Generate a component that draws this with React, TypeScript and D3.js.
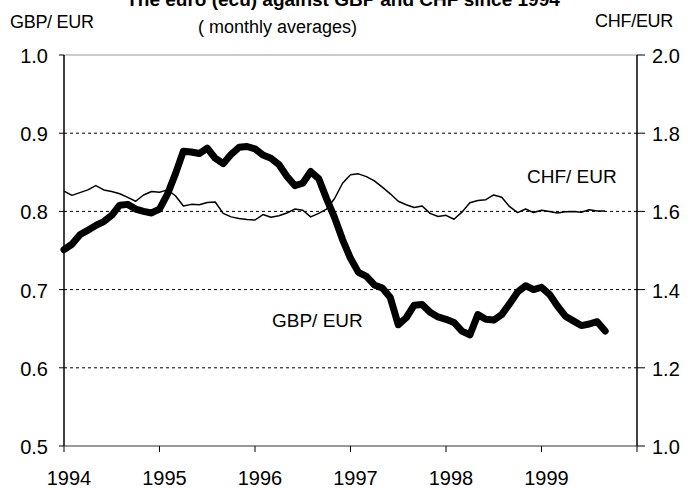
import React from 'react';
import * as d3 from 'd3';

// monthly averages, Jan 1994 onwards
const startYear = 1994;
const gbpEur = [
  0.751, 0.758, 0.770, 0.776, 0.782, 0.787, 0.795, 0.808, 0.809, 0.803, 0.800, 0.798,
  0.803, 0.822, 0.848, 0.877, 0.876, 0.874, 0.881, 0.868, 0.861, 0.873, 0.882, 0.883,
  0.880, 0.872, 0.868, 0.860, 0.845, 0.833, 0.836, 0.851, 0.842, 0.816, 0.792, 0.764,
  0.740, 0.722, 0.717, 0.706, 0.702, 0.690, 0.655, 0.664, 0.680, 0.681, 0.671, 0.665,
  0.662, 0.658, 0.647, 0.642, 0.668, 0.662, 0.661, 0.668, 0.682, 0.697, 0.705, 0.700,
  0.703, 0.694, 0.679, 0.666, 0.660, 0.654, 0.656, 0.659, 0.647,
];
const chfEur = [
  1.652, 1.641, 1.648, 1.655, 1.666, 1.655, 1.651, 1.645, 1.636, 1.626, 1.642, 1.651,
  1.649, 1.655, 1.640, 1.614, 1.618, 1.617, 1.623, 1.624, 1.595, 1.586, 1.582, 1.579,
  1.578, 1.592, 1.585, 1.589, 1.596, 1.606, 1.603, 1.586, 1.595, 1.606, 1.633, 1.672,
  1.694, 1.696, 1.689, 1.678, 1.662, 1.645, 1.626, 1.617, 1.610, 1.614, 1.595, 1.587,
  1.590, 1.580, 1.598, 1.622, 1.628, 1.630, 1.642, 1.636, 1.612, 1.597, 1.606, 1.597,
  1.603, 1.600, 1.596, 1.599, 1.600, 1.598, 1.604, 1.601, 1.601,
];
const yearTicks = [1994, 1995, 1996, 1997, 1998, 1999, 2000];
const yearLabels = [1994, 1995, 1996, 1997, 1998, 1999];
const leftTicks = [0.5, 0.6, 0.7, 0.8, 0.9, 1.0];
const rightTicks = [1.0, 1.2, 1.4, 1.6, 1.8, 2.0];
const gridTicks = [0.6, 0.7, 0.8, 0.9];

const W = 692;
const H = 490;
const font = 'Liberation Sans, Arial, sans-serif';

export default function App() {
  const left = 64, right = 637, top = 55, bottom = 446;
  const x = d3.scaleLinear().domain([1994, 2000]).range([left, right]);
  const yL = d3.scaleLinear().domain([0.5, 1.0]).range([bottom, top]);
  const yR = d3.scaleLinear().domain([1.0, 2.0]).range([bottom, top]);

  const t = (i: number) => startYear + i / 12;
  const gbpLine = d3.line<number>().x((d, i) => x(t(i))).y(d => yL(d));
  const chfLine = d3.line<number>().x((d, i) => x(t(i))).y(d => yR(d));

  return (
    <svg width={W} height={H} style={{ position: 'absolute', left: 0, top: 0, background: '#fff' }}
      fontFamily={font}>
      {/* title, cut off at the top of the scan */}
      <text x={343} y={6} textAnchor="middle" fontSize={19} fontWeight="bold">
        The euro (ecu) against GBP and CHF since 1994
      </text>
      <text x={10} y={28} fontSize={18} letterSpacing={-0.3}>GBP/ EUR</text>
      <text x={198} y={33} fontSize={18}>( monthly averages)</text>
      <text x={673} y={27} textAnchor="end" fontSize={18} letterSpacing={-0.3}>CHF/EUR</text>

      {/* grid */}
      {gridTicks.map(v => (
        <line key={v} x1={left} x2={right} y1={yL(v)} y2={yL(v)}
          stroke="#000" strokeWidth={1} strokeDasharray="3,3" />
      ))}
      <line x1={left} x2={right} y1={top} y2={top} stroke="#999" strokeWidth={1} />

      {/* axes */}
      <line x1={left} x2={left} y1={top} y2={bottom} stroke="#000" strokeWidth={1.5} />
      <line x1={right} x2={right} y1={top} y2={bottom} stroke="#000" strokeWidth={1.5} />
      <line x1={left} x2={right} y1={bottom} y2={bottom} stroke="#333" strokeWidth={1.2} />
      {leftTicks.map(v => (
        <g key={v}>
          <line x1={left - 5} x2={left} y1={yL(v)} y2={yL(v)} stroke="#000" />
          <text x={48} y={yL(v) + 8} textAnchor="end" fontSize={20}>{v.toFixed(1)}</text>
        </g>
      ))}
      {rightTicks.map(v => (
        <g key={v}>
          <line x1={right} x2={right + 8} y1={yR(v)} y2={yR(v)} stroke="#000" />
          <text x={652} y={yR(v) + 8} fontSize={20}>{v.toFixed(1)}</text>
        </g>
      ))}
      {yearTicks.map(v => (
        <line key={v} x1={x(v)} x2={x(v)} y1={bottom} y2={bottom + 6} stroke="#000" />
      ))}
      {yearLabels.map(v => (
        <text key={v} x={x(v) + 5} y={485} textAnchor="middle" fontSize={20}>{v}</text>
      ))}

      {/* series */}
      <path d={chfLine(chfEur) ?? ''} fill="none" stroke="#000" strokeWidth={1.5}
        strokeLinejoin="round" />
      <path d={gbpLine(gbpEur) ?? ''} fill="none" stroke="#000" strokeWidth={7}
        strokeLinejoin="round" strokeLinecap="round" />

      <text x={527} y={183} fontSize={19}>CHF/ EUR</text>
      <text x={272} y={327} fontSize={19}>GBP/ EUR</text>
    </svg>
  );
}
